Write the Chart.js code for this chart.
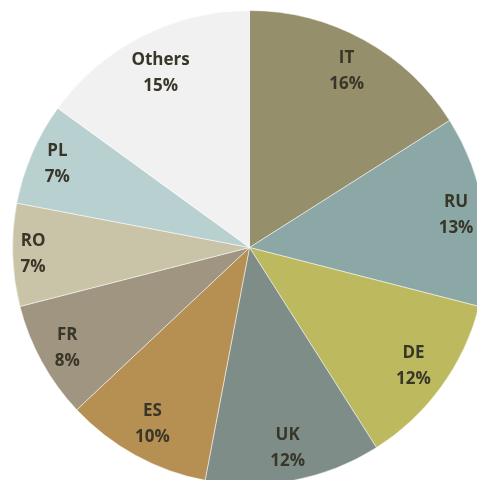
<!DOCTYPE html>
<html>
<head>
<meta charset="utf-8">
<script src="https://cdn.jsdelivr.net/npm/chart.js@4"></script>
<style>
    html, body { margin: 0; padding: 0; background: #fff; overflow: hidden; width: 477px; height: 480px; }
    #pieChart { position: absolute; left: 12px; top: 10px; }
</style>
</head>
<body>
<canvas id="pieChart" width="475" height="475"></canvas>
<script>
const countries = ['IT', 'RU', 'DE', 'UK', 'ES', 'FR', 'RO', 'PL', 'Others'];
const shares = [16, 13, 12, 12, 10, 8, 7, 7, 15];
const sliceColors = ['#968f6b', '#8ba8a7', '#bdb95e', '#7f8d89', '#b68f53', '#a09580', '#c9c4a8', '#b9d0d1', '#f1f1f1'];

// "inside end" labels: push each two-line box out along the slice middle
// until its farthest corner touches the rim (minus a little padding)
const sliceLabels = {
    id: 'sliceLabels',
    afterDatasetsDraw(chart) {
        const ctx = chart.ctx;
        const meta = chart.getDatasetMeta(0);
        const lineGap = 26;
        const boxH = 48;
        const pad = 6;
        ctx.save();
        ctx.font = 'bold 17px "Open Sans", sans-serif';
        ctx.fillStyle = '#383628';
        ctx.textAlign = 'center';
        ctx.textBaseline = 'middle';
        meta.data.forEach((arc, i) => {
            const p = arc.getProps(['x', 'y', 'startAngle', 'endAngle', 'outerRadius'], true);
            const mid = (p.startAngle + p.endAngle) / 2;
            const pct = shares[i] + '%';
            const boxW = Math.max(ctx.measureText(countries[i]).width, ctx.measureText(pct).width);
            const ux = Math.cos(mid), uy = Math.sin(mid);
            const cx = Math.sign(ux) * boxW / 2, cy = Math.sign(uy) * boxH / 2;
            // solve |d*u + c| = R - pad for d
            const target = p.outerRadius - pad;
            const b = ux * cx + uy * cy;
            const c = cx * cx + cy * cy - target * target;
            const d = -b + Math.sqrt(b * b - c);
            const x = p.x + ux * d;
            const y = p.y + uy * d;
            ctx.fillText(countries[i], x, y - lineGap / 2);
            ctx.fillText(pct, x, y + lineGap / 2);
        });
        ctx.restore();
    }
};

const pieCtx = document.getElementById('pieChart').getContext('2d');
const pieChart = new Chart(pieCtx, {
    type: 'pie',
    data: {
        labels: countries,
        datasets: [{
            data: shares,
            backgroundColor: sliceColors,
            borderColor: 'rgba(255,255,255,0.5)',
            borderWidth: 1
        }]
    },
    options: {
        responsive: false,
        animation: false,
        layout: { padding: 0 },
        plugins: {
            legend: { display: false },
            tooltip: { enabled: false }
        }
    },
    plugins: [sliceLabels]
});
</script>
</body>
</html>
